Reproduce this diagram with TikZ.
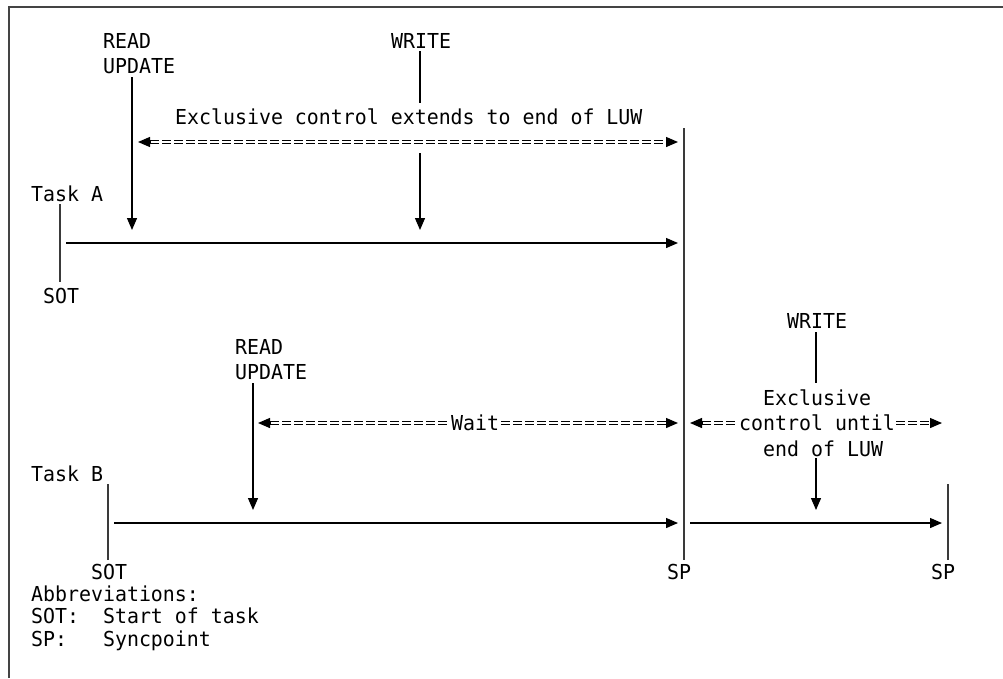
\documentclass[tikz,border=0pt]{standalone}
\usepackage{fontspec}
\setmonofont[FakeStretch=0.966]{DejaVu Sans Mono}
\usetikzlibrary{arrows.meta}
\definecolor{ink}{HTML}{000000}
\definecolor{bargray}{HTML}{3A3A3A}
\definecolor{framegray}{HTML}{444444}
\begin{document}
\begin{tikzpicture}[x=1pt,y=-1pt,
  txt/.style={font=\ttfamily\fontsize{20.6}{25.5}\selectfont, inner sep=0pt,
              anchor=base west, text=ink},
  frame/.style={draw=framegray, line width=1.5pt},
  bar/.style={draw=bargray, line width=1.8pt},
  ln/.style={draw=ink, line width=1.3pt},
  arr/.style={ln, -{Triangle[length=12pt,width=10pt]}},
  eqrule/.style={draw=ink, line width=1.1pt, double=white, double distance=2.4pt,
                 dash pattern=on 9pt off 3pt},
  eqtip/.style={ln, -{Triangle[length=12pt,width=10pt]}}
]
\useasboundingbox (0,0) rectangle (1003,678);
\draw[frame] (9,678) -- (9,7) -- (1003,7);

% ---------- Task A ----------
\node[txt] (rdA)   at (103,48)    {READ};
\node[txt] (upA)   at (103,73.5)  {UPDATE};
\node[txt] (wrA)   at (391,48)    {WRITE};
\node[txt] (excl)  at (175,124.5) {Exclusive control extends to end of LUW};
\node[txt] (taskA) at (31,201)    {Task A};
\node[txt] (sotA)  at (43,303)    {SOT};

\coordinate (rAtop) at (132,77);   \coordinate (rAend) at (132,230);
\coordinate (wAtop) at (420,51);   \coordinate (wAmid) at (420,103);
\coordinate (wAlow) at (420,153);  \coordinate (wAend) at (420,230);
\draw[arr] (rAtop) -- (rAend);
\draw[ln]  (wAtop) -- (wAmid);
\draw[arr] (wAlow) -- (wAend);

% exclusive control span
\coordinate (eAl)  at (138,142);  \coordinate (eAr)  at (678,142);
\coordinate (eAli) at (150,142);  \coordinate (eAri) at (666,142);
\draw[eqrule] (eAli) -- (eAri);
\draw[eqtip] (eAli) -- (eAl);
\draw[eqtip] (eAri) -- (eAr);

% task A time line
\coordinate (bAtop) at (60,204);  \coordinate (bAbot) at (60,282);
\draw[bar] (bAtop) -- (bAbot);
\coordinate (tAs) at (66,243);    \coordinate (tAe) at (678,243);
\draw[arr] (tAs) -- (tAe);

% syncpoint of both tasks
\coordinate (spTop) at (684,128); \coordinate (spBot) at (684,560);
\draw[bar] (spTop) -- (spBot);

% ---------- Task B ----------
\node[txt] (rdB)   at (235,354)   {READ};
\node[txt] (upB)   at (235,379.5) {UPDATE};
\node[txt] (wait)  at (451,430.5) {Wait};
\node[txt] (wrB)   at (787,328.5) {WRITE};
\node[txt] (exB)   at (763,405)   {Exclusive};
\node[txt] (cuB)   at (739,430.5) {control until};
\node[txt] (eoB)   at (763,456)   {end of LUW};
\node[txt] (taskB) at (31,481.5)  {Task B};
\node[txt] (sotB)  at (91,579.5)  {SOT};
\node[txt] (spA)   at (667,579.5) {SP};
\node[txt] (spB)   at (931,579.5) {SP};

\coordinate (rBtop) at (253,383); \coordinate (rBend) at (253,510);
\draw[arr] (rBtop) -- (rBend);

% wait span
\coordinate (wBl)  at (258,423);  \coordinate (wBli) at (270,423);
\coordinate (wBr)  at (678,423);  \coordinate (wBri) at (666,423);
\draw[eqrule] (wBli) -- ([xshift=-2pt]wait.west |- wBli);
\draw[eqrule] ([xshift=2pt]wait.east |- wBli) -- (wBri);
\draw[eqtip] (wBli) -- (wBl);
\draw[eqtip] (wBri) -- (wBr);

% exclusive control after the syncpoint
\coordinate (cBl)  at (690,423);  \coordinate (cBli) at (702,423);
\coordinate (cBr)  at (942,423);  \coordinate (cBri) at (930,423);
\draw[eqrule] (cBli) -- ([xshift=-2pt]cuB.west |- cBli);
\draw[eqrule] ([xshift=1pt]cuB.east |- cBli) -- (cBri);
\draw[eqtip] (cBli) -- (cBl);
\draw[eqtip] (cBri) -- (cBr);

\coordinate (wBtop) at (816,332); \coordinate (wBmid) at (816,383);
\coordinate (wBlow) at (816,458); \coordinate (wBend) at (816,510);
\draw[ln]  (wBtop) -- (wBmid);
\draw[arr] (wBlow) -- (wBend);

% task B time lines
\coordinate (bBtop) at (108,484); \coordinate (bBbot) at (108,560);
\draw[bar] (bBtop) -- (bBbot);
\coordinate (tBs) at (114,523);   \coordinate (tBe) at (678,523);
\draw[arr] (tBs) -- (tBe);
\coordinate (tCs) at (690,523);   \coordinate (tCe) at (942,523);
\draw[arr] (tCs) -- (tCe);
\coordinate (bCtop) at (948,484); \coordinate (bCbot) at (948,560);
\draw[bar] (bCtop) -- (bCbot);

% ---------- legend ----------
\node[txt] (abbr) at (31,601)   {Abbreviations:};
\node[txt] (ab1)  at (31,623.5) {SOT:\ \ Start of task};
\node[txt] (ab2)  at (31,646)   {SP:\ \ \ Syncpoint};
\end{tikzpicture}
\end{document}
